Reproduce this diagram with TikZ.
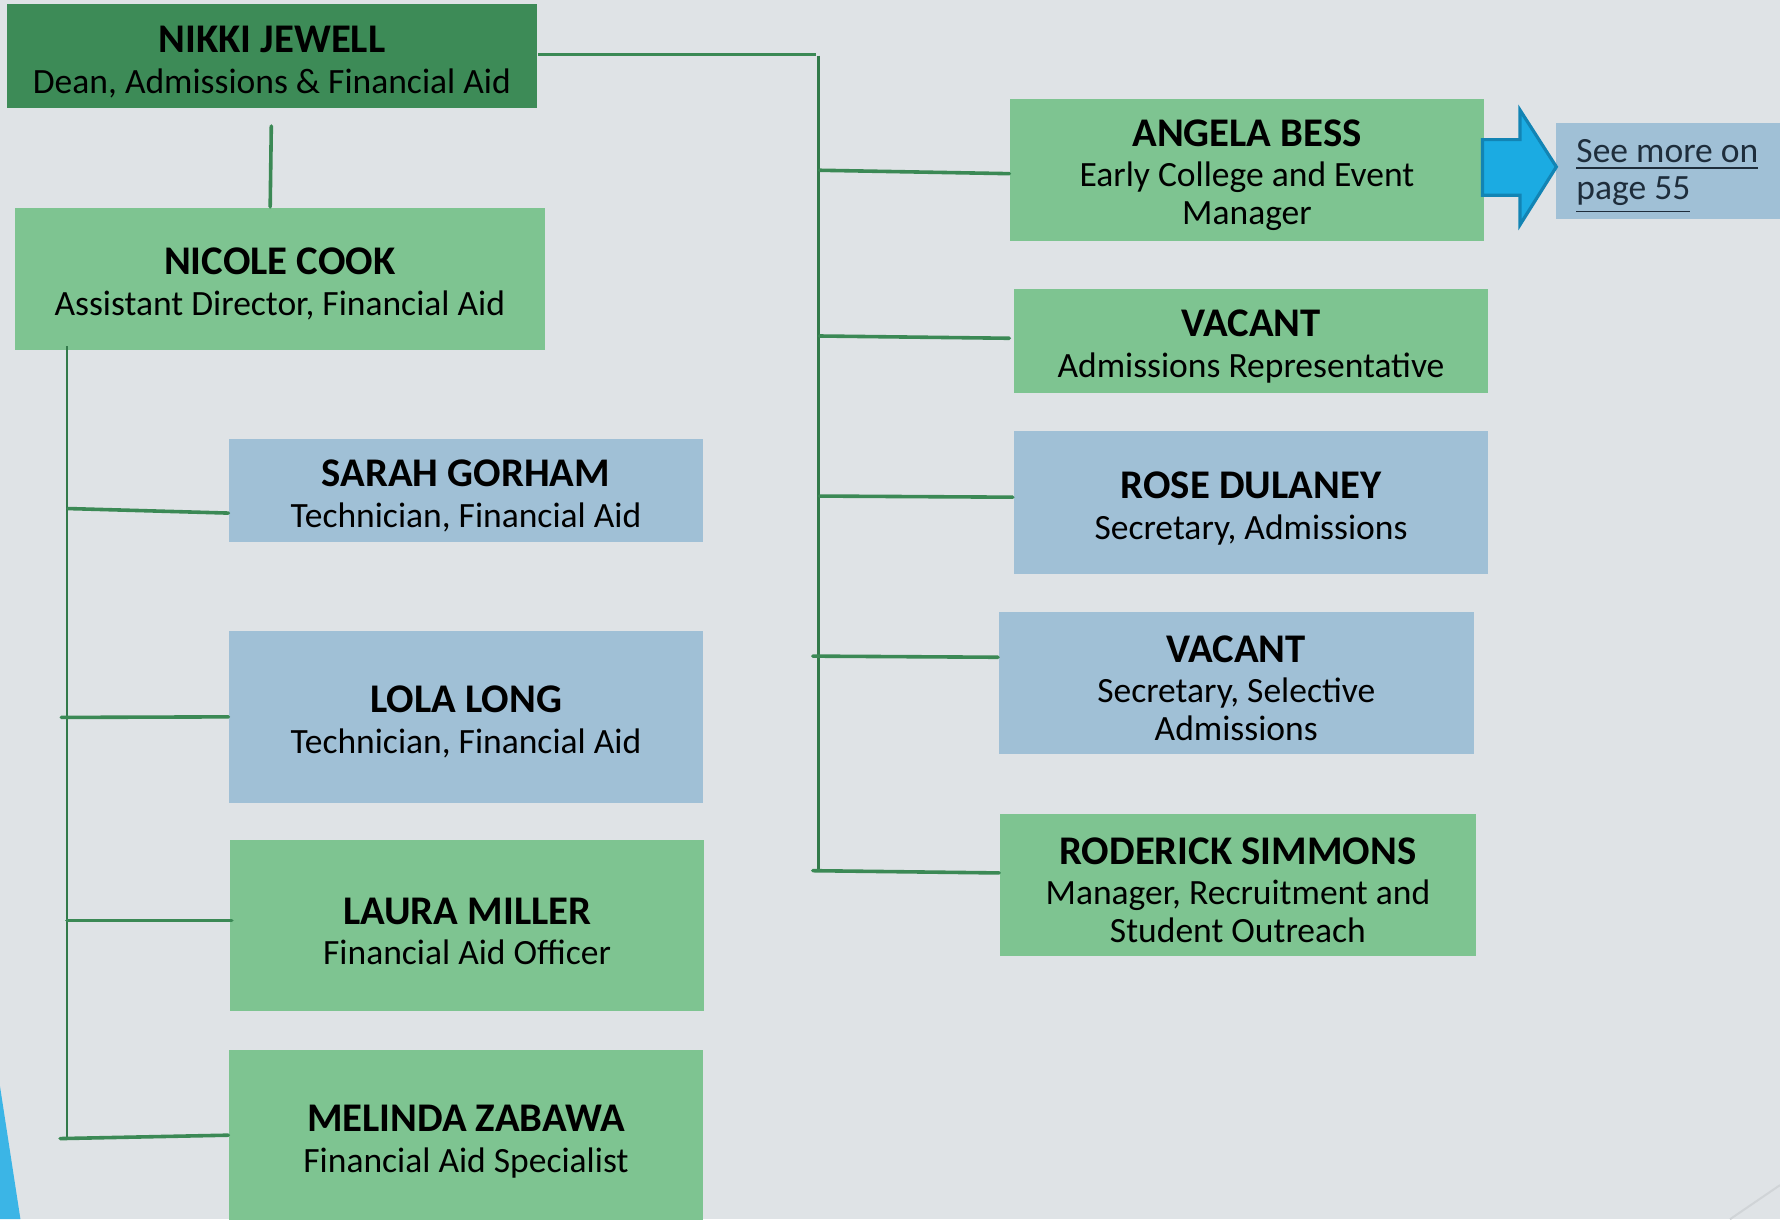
\documentclass[tikz,border=0pt]{standalone}
\usepackage{fontspec}
\setmainfont{Carlito}
\usetikzlibrary{calc}
\definecolor{bg}{HTML}{DFE3E6}
\definecolor{dkgreen}{HTML}{3D8B57}
\definecolor{ltgreen}{HTML}{7EC491}
\definecolor{ltblue}{HTML}{A0C0D6}
\definecolor{linegreen}{HTML}{3B8955}
\definecolor{spinegreen}{HTML}{327A4A}
\definecolor{arrowfill}{HTML}{1BABE2}
\definecolor{arrowline}{HTML}{1284B4}
\definecolor{cornerblue}{HTML}{3BB5E6}
\definecolor{linktext}{HTML}{1E2D3B}
\definecolor{faint}{HTML}{D0D4D7}
\newcommand{\pname}[1]{{\fontsize{10.2}{10.2}\selectfont\bfseries\rule{0pt}{9.4pt}#1}}
\tikzset{
  card/.style={rectangle, inner sep=0pt, align=center, font=\fontsize{8.9}{9.5}\selectfont, text=black},
  greencard/.style={card, fill=ltgreen},
  bluecard/.style={card, fill=ltblue},
  deancard/.style={card, fill=dkgreen},
  branch/.style={draw=linegreen, line width=0.9pt, line cap=round},
  spine/.style={draw=spinegreen, line width=0.55pt},
  thinlink/.style={draw=linegreen, line width=0.6pt},
}
\begin{document}
\begin{tikzpicture}[x=0.01cm,y=-0.01cm]
\useasboundingbox (0,0) rectangle (1568,1074);
\fill[bg] (0,0) rectangle (1568,1074);
% decorative corner shapes
\fill[cornerblue] (0,957) -- (18,1074) -- (0,1074) -- cycle;
\draw[faint, line width=0.5pt] (1524,1074) -- (1568,1044);

% boxes
\node[deancard, minimum width=4.67cm, minimum height=0.91cm] (nikki) at (239.5,49.5)
  {\pname{NIKKI JEWELL}\\[0.7pt]Dean, Admissions \& Financial Aid};
\node[greencard, minimum width=4.67cm, minimum height=1.25cm] (nicole) at (246.5,245.5)
  {\pname{NICOLE COOK}\\[0.7pt]Assistant Director, Financial Aid};

\node[greencard, minimum width=4.17cm, minimum height=1.25cm] (angela) at (1098.5,149.5)
  {\pname{ANGELA BESS}\\[0.7pt]Early College and Event\\Manager};
\node[greencard, minimum width=4.18cm, minimum height=0.91cm] (vacone) at (1102,300.5)
  {\pname{VACANT}\\[0.7pt]Admissions Representative};
\node[bluecard, minimum width=4.18cm, minimum height=1.26cm] (rose) at (1102,443)
  {\pname{ROSE DULANEY}\\[0.7pt]Secretary, Admissions};
\node[bluecard, minimum width=4.18cm, minimum height=1.25cm] (vactwo) at (1089,601.5)
  {\pname{VACANT}\\[0.7pt]Secretary, Selective\\Admissions};
\node[greencard, minimum width=4.19cm, minimum height=1.25cm] (roderick) at (1090.5,779.5)
  {\pname{RODERICK SIMMONS}\\[0.7pt]Manager, Recruitment and\\Student Outreach};

\node[bluecard, minimum width=4.17cm, minimum height=0.90cm] (sarah) at (410.5,432)
  {\pname{SARAH GORHAM}\\[0.7pt]Technician, Financial Aid};
\node[bluecard, minimum width=4.17cm, minimum height=1.51cm] (lola) at (410.5,631.5)
  {\pname{LOLA LONG}\\[0.7pt]Technician, Financial Aid};
\node[greencard, minimum width=4.17cm, minimum height=1.51cm] (laura) at (411.5,815.5)
  {\pname{LAURA MILLER}\\[0.7pt]Financial Aid Officer};
\node[greencard, minimum width=4.17cm, minimum height=1.52cm] (melinda) at (410.5,1001)
  {\pname{MELINDA ZABAWA}\\[0.7pt]Financial Aid Specialist};

% see more
\node[bluecard, minimum width=2.2cm, minimum height=0.85cm] (seebox) at (1481,150.5) {};
\node[anchor=west, align=left, inner sep=0pt, font=\fontsize{8.9}{9.4}\selectfont, text=linktext] (seemore) at (1388,155.5)
  {\underline{See more on}\\\underline{page 55}};
\draw[fill=arrowfill, draw=arrowline, line width=0.8pt, line join=miter]
  (1306,123) -- (1339,123) -- (1339,97) -- (1371,147) -- (1339,198) -- (1339,172) -- (1306,172) -- cycle;

% connectors: top
\coordinate (nk) at (239,111);
\draw[branch] (nk) -- ($(nicole.north)+(-8.5,0)$);
\coordinate (topcorner) at (719,48);
\draw[thinlink] ($(nikki.east)+(0,-1.5)$) -- (topcorner);
\coordinate (rtop) at (721,49);
\coordinate (rbot) at (721,768);
\draw[spine] (rtop) -- (rbot);
\coordinate (ra) at (722,150);
\coordinate (rb) at (722,296);
\coordinate (rc) at (722,437);
\coordinate (rd) at (716,578);
\coordinate (re) at (716,767);
\draw[branch] (ra) -- ($(angela.west)+(0,3.5)$);
\draw[branch] (rb) -- ($(vacone.west)+(-3,-2.5)$);
\draw[branch] (rc) -- ($(rose.west)+(0,-5)$);
\draw[branch] (rd) -- ($(vactwo.west)+(0,-22.5)$);
\draw[branch] (re) -- ($(roderick.west)+(0,-10.5)$);

% connectors: left
\coordinate (ltop) at (59,305);
\coordinate (lbot) at (59,1003);
\draw[spine] (ltop) -- (lbot);
\coordinate (la) at (60,448);
\coordinate (lb) at (54,632);
\coordinate (lc) at (59,811);
\coordinate (ld) at (53,1003);
\draw[branch] (la) -- ($(sarah.west)+(0,20)$);
\draw[branch] (lb) -- (lola.west);
\draw[branch] (lc) -- ($(laura.west)+(2,-4.5)$);
\draw[branch] (ld) -- ($(melinda.west)+(0,-1)$);
\end{tikzpicture}
\end{document}
